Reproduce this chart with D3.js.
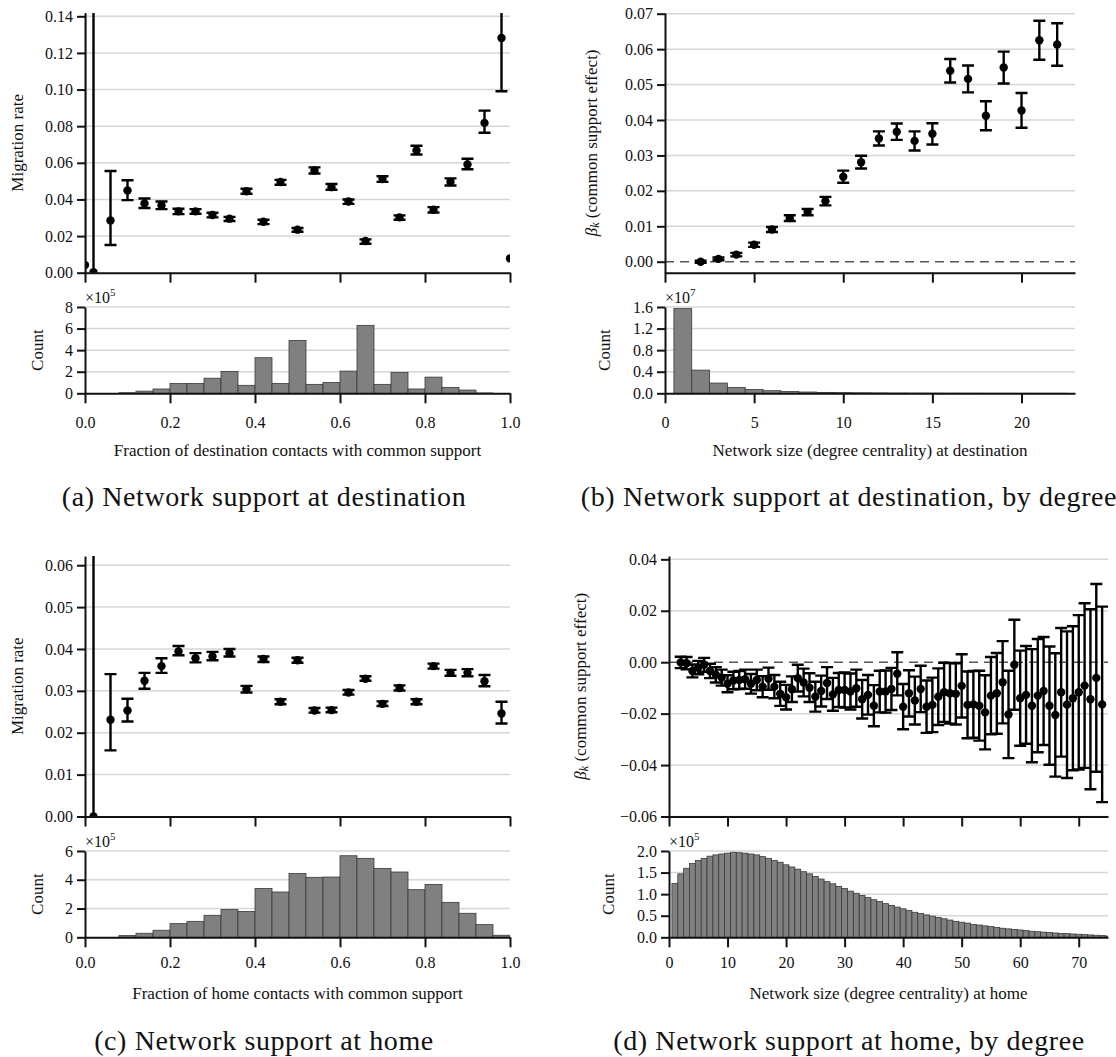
<!DOCTYPE html>
<html lang="en">
<head>
<meta charset="utf-8">
<title>Network support and migration</title>
<style>
  body { margin: 0; background: #fff; }
  svg text { font-family: "Liberation Serif", "Times New Roman", serif; fill: #111; }
  .grid line { stroke: #d6d6d6; stroke-width: 1.5; }
  .axis path, .axis line { stroke: #111; stroke-width: 2; }
  .axis text { font-size: 16px; }
  .lab { font-size: 17px; }
  .cap { font-size: 28px; letter-spacing: 0.6px; }
  .err { stroke: #000; stroke-width: 2.4; fill: none; }
  .bar { fill: #808080; stroke: #3a3a3a; stroke-width: 0.8; }
</style>
</head>
<body>
<div id="chart"></div>
<script src="https://d3js.org/d3.v7.min.js"></script>
<script>
// (a) destination, by fraction of contacts with common support
var aX = [0, 0.02, 0.06, 0.10, 0.14, 0.18, 0.22, 0.26, 0.30, 0.34, 0.38, 0.42, 0.46, 0.50,
          0.54, 0.58, 0.62, 0.66, 0.70, 0.74, 0.78, 0.82, 0.86, 0.90, 0.94, 0.98, 1.0];
var aRate = [0.0042, 0.0003, 0.0285, 0.0449, 0.0378, 0.0367, 0.0335, 0.0335, 0.0315, 0.0295, 0.0445, 0.0278, 0.0495, 0.0235,
             0.0558, 0.0467, 0.0389, 0.0173, 0.0511, 0.0302, 0.0667, 0.0344, 0.0495, 0.0591, 0.0818, 0.1282, 0.0078];
var aLo = [-0.1, -0.1, 0.0151, 0.0396, 0.0353, 0.0347, 0.0320, 0.0322, 0.0302, 0.0282, 0.0431, 0.0265, 0.0480, 0.0224,
           0.0542, 0.0453, 0.0376, 0.0158, 0.0496, 0.0289, 0.0645, 0.0329, 0.0476, 0.0565, 0.0764, 0.0991, 0.0078];
var aHi = [0.3, 0.3, 0.0555, 0.0505, 0.0405, 0.0389, 0.0349, 0.0347, 0.0327, 0.0305, 0.0458, 0.0289, 0.0507, 0.0244,
           0.0575, 0.0484, 0.0400, 0.0182, 0.0527, 0.0313, 0.0693, 0.0358, 0.0515, 0.0622, 0.0885, 0.1600, 0.0078];
// counts per 0.04 bin, in units of 1e5
var aHist = [0, 0, 0.05, 0.2, 0.4, 0.92, 0.92, 1.4, 2.03, 0.74, 3.3, 0.92, 4.9, 0.83, 1.0, 2.06, 6.3, 0.83, 1.94, 0.4,
             1.5, 0.55, 0.3, 0.03, 0];

// (b) destination, by degree
var bK = [2, 3, 4, 5, 6, 7, 8, 9, 10, 11, 12, 13, 14, 15, 16, 17, 18, 19, 20, 21, 22];
var bBeta = [0.0000, 0.0008, 0.0020, 0.0048, 0.0091, 0.0123, 0.0140, 0.0171, 0.0240, 0.0281, 0.0348, 0.0367, 0.0341, 0.0361,
             0.0539, 0.0516, 0.0412, 0.0548, 0.0427, 0.0625, 0.0613];
var bErr = [0.0003, 0.0004, 0.0005, 0.0006, 0.0007, 0.0008, 0.0009, 0.0012, 0.0017, 0.0018, 0.0020, 0.0023, 0.0027, 0.0030,
            0.0033, 0.0038, 0.0041, 0.0045, 0.0049, 0.0055, 0.0060];
// counts for degree 1..22, in units of 1e7
var bHist = [1.57, 0.43, 0.19, 0.11, 0.07, 0.048, 0.034, 0.024, 0.017, 0.012, 0.009, 0.007, 0.005, 0.004, 0.003,
             0.0025, 0.002, 0.0015, 0.0012, 0.001, 0.0009, 0.0008];

// (c) home, by fraction of contacts with common support
var cX = [0.02, 0.06, 0.10, 0.14, 0.18, 0.22, 0.26, 0.30, 0.34, 0.38, 0.42, 0.46, 0.50,
          0.54, 0.58, 0.62, 0.66, 0.70, 0.74, 0.78, 0.82, 0.86, 0.90, 0.94, 0.98];
var cRate = [0, 0.0231, 0.0253, 0.0324, 0.0359, 0.0394, 0.0378, 0.0382, 0.0390, 0.0304, 0.0376, 0.0274, 0.0373,
             0.0253, 0.0254, 0.0296, 0.0329, 0.0269, 0.0307, 0.0274, 0.0359, 0.0343, 0.0343, 0.0323, 0.0246];
var cLo = [-0.1, 0.0158, 0.0227, 0.0305, 0.0343, 0.0385, 0.0368, 0.0373, 0.0382, 0.0296, 0.0369, 0.0268, 0.0367,
           0.0248, 0.0249, 0.0291, 0.0324, 0.0264, 0.0301, 0.0268, 0.0353, 0.0336, 0.0335, 0.0311, 0.0222];
var cHi = [0.3, 0.0340, 0.0281, 0.0343, 0.0378, 0.0407, 0.0390, 0.0393, 0.0400, 0.0312, 0.0382, 0.0280, 0.0379,
           0.0259, 0.0260, 0.0302, 0.0335, 0.0275, 0.0313, 0.0280, 0.0365, 0.0350, 0.0352, 0.0338, 0.0274];
var cHist = [0, 0, 0.12, 0.28, 0.49, 0.95, 1.11, 1.53, 1.94, 1.8, 3.4, 3.15, 4.44, 4.17, 4.19, 5.67, 5.49, 4.79, 4.54,
             3.31, 3.68, 2.43, 1.67, 0.88, 0.14];

// (d) home, by degree (k = 2..74)
var dK = d3.range(2, 75);
var dBeta = [-0.0001, -0.0004, -0.0034, -0.0021, -0.0010, -0.0034, -0.0049, -0.0060, -0.0084, -0.0071,
             -0.0069, -0.0066, -0.0084, -0.0069, -0.0095, -0.0064, -0.0095, -0.0123, -0.0136, -0.0105,
             -0.0062, -0.0079, -0.0099, -0.0134, -0.0112, -0.0081, -0.0125, -0.0108, -0.0108, -0.0114,
             -0.0101, -0.0144, -0.0127, -0.0169, -0.0114, -0.0114, -0.0104, -0.0045, -0.0173, -0.0121,
             -0.0149, -0.0104, -0.0173, -0.0166, -0.0134, -0.0117, -0.0121, -0.0123, -0.0092, -0.0166,
             -0.0164, -0.0169, -0.0195, -0.0130, -0.0121, -0.0078, -0.0203, -0.0010, -0.0140, -0.0127,
             -0.0169, -0.0130, -0.0112, -0.0169, -0.0205, -0.0117, -0.0165, -0.0140, -0.0117, -0.0091,
             -0.0144, -0.0061, -0.0164];
var dErr = [0.0022, 0.0024, 0.0025, 0.0026, 0.0027, 0.0028, 0.0030, 0.0031, 0.0033, 0.0034,
            0.0035, 0.0037, 0.0038, 0.0040, 0.0041, 0.0043, 0.0045, 0.0047, 0.0048, 0.0050,
            0.0052, 0.0054, 0.0056, 0.0058, 0.0060, 0.0062, 0.0064, 0.0066, 0.0068, 0.0070,
            0.0072, 0.0075, 0.0077, 0.0080, 0.0081, 0.0082, 0.0082, 0.0084, 0.0088, 0.0090,
            0.0093, 0.0090, 0.0102, 0.0106, 0.0110, 0.0115, 0.0118, 0.0119, 0.0123, 0.0130,
            0.0130, 0.0136, 0.0144, 0.0150, 0.0157, 0.0160, 0.0170, 0.0175, 0.0185, 0.0190,
            0.0220, 0.0220, 0.0210, 0.0230, 0.0240, 0.0250, 0.0285, 0.0280, 0.0300, 0.0320,
            0.0350, 0.0365, 0.0380];
// counts for degree 1..75, in units of 1e5
var dHist = [1.25, 1.47, 1.60, 1.71, 1.78, 1.83, 1.88, 1.91, 1.93, 1.95, 1.97, 1.96, 1.95, 1.93, 1.91,
             1.87, 1.83, 1.78, 1.74, 1.68, 1.63, 1.58, 1.52, 1.47, 1.41, 1.35, 1.29, 1.24, 1.18, 1.13,
             1.07, 1.02, 0.97, 0.92, 0.87, 0.83, 0.78, 0.74, 0.70, 0.66, 0.62, 0.58, 0.55, 0.52, 0.49,
             0.46, 0.43, 0.40, 0.37, 0.35, 0.33, 0.30, 0.285, 0.265, 0.25, 0.23, 0.21, 0.195, 0.18, 0.17,
             0.155, 0.14, 0.13, 0.12, 0.11, 0.10, 0.09, 0.085, 0.077, 0.07, 0.062, 0.055, 0.047, 0.04, 0.03];

// tick labels
var fracTicks = [0, 0.2, 0.4, 0.6, 0.8, 1.0];
var aYTicks = [0, 0.02, 0.04, 0.06, 0.08, 0.10, 0.12, 0.14];
var bYTicks = [0, 0.01, 0.02, 0.03, 0.04, 0.05, 0.06, 0.07];
var cYTicks = [0, 0.01, 0.02, 0.03, 0.04, 0.05, 0.06];
var dYTicks = [-0.06, -0.04, -0.02, 0, 0.02, 0.04];
var bXTicks = [0, 5, 10, 15, 20];
var dXTicks = [0, 10, 20, 30, 40, 50, 60, 70];

var W = 1116, H = 1057;
var colL = { x0: 85, x1: 510 }, colB = { x0: 665, x1: 1075 }, colD = { x0: 669, x1: 1108 };
var row1 = { top: 13, bot: 272.7, htop: 307, hbot: 393.3, tick: 423, label: 450, cap: 496 };
var row2 = { top: 556, bot: 816.5, htop: 851, hbot: 937.3, tick: 963, label: 993, cap: 1040 };

var svg = d3.select("#chart").append("svg")
    .attr("width", W)
    .attr("height", H);
svg.append("rect").attr("width", W).attr("height", H).attr("fill", "#fff");
var defs = svg.append("defs");
var clipN = 0;

function clip(x0, x1, y0, y1) {
  var id = "clip" + (clipN++);
  defs.append("clipPath").attr("id", id)
    .append("rect").attr("x", x0).attr("y", y0).attr("width", x1 - x0).attr("height", y1 - y0);
  return "url(#" + id + ")";
}

function grid(g, y, ticks, x0, x1) {
  g.append("g").attr("class", "grid").selectAll("line")
    .data(ticks).enter().append("line")
    .attr("x1", x0).attr("x2", x1)
    .attr("y1", function(d) { return y(d); })
    .attr("y2", function(d) { return y(d); });
}

function yLabel(x, yc, txt) {
  return svg.append("text").attr("class", "lab")
    .attr("transform", "translate(" + x + "," + yc + ") rotate(-90)")
    .attr("text-anchor", "middle").attr("dominant-baseline", "central")
    .text(txt);
}

function topPanel(p) {
  var x = d3.scaleLinear().domain(p.xDom).range([p.col.x0, p.col.x1]);
  var y = d3.scaleLinear().domain(p.yDom).range([p.row.bot, p.row.top]);
  var g = svg.append("g");

  grid(g, y, p.yTicks.filter(function(d) { return d !== 0; }), p.col.x0, p.col.x1);
  if (p.zeroLine) {
    g.append("line")
      .attr("x1", p.col.x0).attr("x2", p.col.x1)
      .attr("y1", y(0)).attr("y2", y(0))
      .attr("stroke", "#555").attr("stroke-width", 1.4).attr("stroke-dasharray", "9,6");
  }

  var pts = p.xs.map(function(v, i) { return { x: v, v: p.vals[i], lo: p.lo[i], hi: p.hi[i] }; });
  var dg = g.append("g").attr("clip-path", clip(p.col.x0, p.col.x1, p.row.top, p.row.bot));
  dg.selectAll(".err").data(pts.filter(function(d) { return d.hi > d.lo; }))
    .enter().append("path").attr("class", "err")
    .attr("d", function(d) {
      var cx = x(d.x), yl = y(d.lo), yh = y(d.hi);
      return "M" + (cx - 6) + "," + yh + "H" + (cx + 6) +
             "M" + cx + "," + yh + "V" + yl +
             "M" + (cx - 6) + "," + yl + "H" + (cx + 6);
    });
  dg.selectAll("circle").data(pts).enter().append("circle")
    .attr("cx", function(d) { return x(d.x); })
    .attr("cy", function(d) { return y(d.v); })
    .attr("r", 4.2).attr("fill", "#000");

  g.append("g").attr("class", "axis")
    .attr("transform", "translate(" + p.col.x0 + ",0)")
    .call(d3.axisLeft(y).tickValues(p.yTicks).tickFormat(d3.format(p.yFmt))
      .tickSize(8).tickSizeOuter(0).tickPadding(4));
  g.append("g").attr("class", "axis")
    .attr("transform", "translate(0," + p.row.bot + ")")
    .call(d3.axisBottom(x).tickValues(p.xTicks).tickFormat("")
      .tickSize(10).tickSizeOuter(0));
}

function histPanel(p) {
  var x = d3.scaleLinear().domain(p.xDom).range([p.col.x0, p.col.x1]);
  var y = d3.scaleLinear().domain([0, p.yMax]).range([p.row.hbot, p.row.htop]);
  var g = svg.append("g");

  grid(g, y, p.yTicks.filter(function(d) { return d !== 0; }), p.col.x0, p.col.x1);

  g.append("g").attr("clip-path", clip(p.col.x0, p.col.x1, p.row.htop - 2, p.row.hbot))
    .selectAll("rect").data(p.counts).enter().append("rect")
    .attr("class", "bar")
    .attr("x", function(d, i) { return x(p.edges[i]); })
    .attr("width", function(d, i) { return x(p.edges[i] + p.binW) - x(p.edges[i]); })
    .attr("y", function(d) { return y(d); })
    .attr("height", function(d) { return p.row.hbot - y(d); });

  g.append("g").attr("class", "axis")
    .attr("transform", "translate(" + p.col.x0 + ",0)")
    .call(d3.axisLeft(y).tickValues(p.yTicks).tickFormat(d3.format(p.yFmt))
      .tickSize(8).tickSizeOuter(0).tickPadding(4));
  var xa = g.append("g").attr("class", "axis")
    .attr("transform", "translate(0," + p.row.hbot + ")")
    .call(d3.axisBottom(x).tickValues(p.xTicks).tickFormat(d3.format(p.xFmt))
      .tickSize(10).tickSizeOuter(0));
  xa.selectAll("text").attr("y", p.row.tick - p.row.hbot).attr("dy", null)
    .attr("dominant-baseline", "central");

  // multiplier above the axis
  var m = svg.append("text").attr("x", p.col.x0).attr("y", p.row.htop - 4)
    .style("font-size", "16px").text("\u00d710");
  m.append("tspan").attr("dy", -7).style("font-size", "11px").text(p.exp);

  svg.append("text").attr("class", "lab")
    .attr("x", (p.col.x0 + p.col.x1) / 2).attr("y", p.row.label)
    .attr("text-anchor", "middle").attr("dominant-baseline", "central")
    .text(p.xLabel);
  yLabel(p.countX, (p.row.htop + p.row.hbot) / 2, "Count");
}

function betaLabel(x, yc) {
  var t = yLabel(x, yc, "");
  t.append("tspan").style("font-style", "italic").text("\u03b2");
  t.append("tspan").style("font-style", "italic").style("font-size", "12px").attr("dy", 4).text("k");
  t.append("tspan").attr("dy", -4).text(" (common support effect)");
}

function caption(xc, yc, txt) {
  svg.append("text").attr("class", "cap")
    .attr("x", xc).attr("y", yc)
    .attr("text-anchor", "middle").attr("dominant-baseline", "central")
    .text(txt);
}

// ---- (a)
topPanel({ col: colL, row: row1, xDom: [0, 1], yDom: [0, 0.1418], xTicks: fracTicks,
           yTicks: aYTicks, yFmt: ".2f", xs: aX, vals: aRate, lo: aLo, hi: aHi });
histPanel({ col: colL, row: row1, xDom: [0, 1], yMax: 8, yTicks: [0, 2, 4, 6, 8], yFmt: "d",
            xTicks: fracTicks, xFmt: ".1f", counts: aHist, binW: 0.04,
            edges: aHist.map(function(d, i) { return i * 0.04; }), exp: "5", countX: 37,
            xLabel: "Fraction of destination contacts with common support" });
yLabel(17, (row1.top + row1.bot) / 2, "Migration rate");
caption(264, row1.cap, "(a) Network support at destination");

// ---- (b)
topPanel({ col: colB, row: row1, xDom: [0, 23], yDom: [-0.0031, 0.0702], xTicks: bXTicks,
           yTicks: bYTicks, yFmt: ".2f", xs: bK, vals: bBeta, zeroLine: true,
           lo: bBeta.map(function(v, i) { return v - bErr[i]; }),
           hi: bBeta.map(function(v, i) { return v + bErr[i]; }) });
histPanel({ col: colB, row: row1, xDom: [0, 23], yMax: 1.6, yTicks: [0, 0.4, 0.8, 1.2, 1.6], yFmt: ".1f",
            xTicks: bXTicks, xFmt: "d", counts: bHist, binW: 1,
            edges: bHist.map(function(d, i) { return i + 0.5; }), exp: "7", countX: 604,
            xLabel: "Network size (degree centrality) at destination" });
betaLabel(591, (row1.top + row1.bot) / 2);
caption(849, row1.cap, "(b) Network support at destination, by degree");

// ---- (c)
topPanel({ col: colL, row: row2, xDom: [0, 1], yDom: [0, 0.0622], xTicks: fracTicks,
           yTicks: cYTicks, yFmt: ".2f", xs: cX, vals: cRate, lo: cLo, hi: cHi });
histPanel({ col: colL, row: row2, xDom: [0, 1], yMax: 6, yTicks: [0, 2, 4, 6], yFmt: "d",
            xTicks: fracTicks, xFmt: ".1f", counts: cHist, binW: 0.04,
            edges: cHist.map(function(d, i) { return i * 0.04; }), exp: "5", countX: 37,
            xLabel: "Fraction of home contacts with common support" });
yLabel(17, (row2.top + row2.bot) / 2, "Migration rate");
caption(264, row2.cap, "(c) Network support at home");

// ---- (d)
topPanel({ col: colD, row: row2, xDom: [0, 75], yDom: [-0.06, 0.0413], xTicks: dXTicks,
           yTicks: dYTicks, yFmt: ".2f", xs: dK, vals: dBeta, zeroLine: true,
           lo: dBeta.map(function(v, i) { return v - dErr[i]; }),
           hi: dBeta.map(function(v, i) { return v + dErr[i]; }) });
histPanel({ col: colD, row: row2, xDom: [0, 75], yMax: 2.0, yTicks: [0, 0.5, 1.0, 1.5, 2.0], yFmt: ".1f",
            xTicks: dXTicks, xFmt: "d", counts: dHist, binW: 1,
            edges: dHist.map(function(d, i) { return i + 0.5; }), exp: "5", countX: 608,
            xLabel: "Network size (degree centrality) at home" });
betaLabel(580, (row2.top + row2.bot) / 2);
caption(849, row2.cap, "(d) Network support at home, by degree");
</script>
</body>
</html>
